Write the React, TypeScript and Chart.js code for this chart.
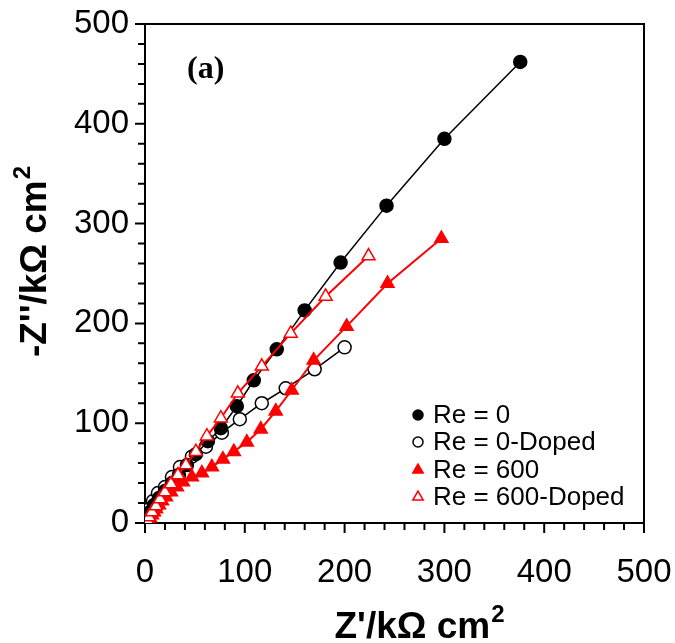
import React, { useEffect, useRef } from 'react';
import { Chart, registerables } from 'chart.js';
import { drawPoint } from 'chart.js/helpers';

Chart.register(...registerables);

// Nyquist data, Z' and -Z'' in kΩ cm²
const RE0_ZRE = [0.5, 2, 5, 9, 14, 20, 27, 34, 42, 51, 63, 76, 92, 109, 132, 160, 196, 242, 300, 376];
const RE0_ZIM = [1, 5, 11, 18, 25, 32, 40, 48, 58, 69, 82, 95, 117, 143, 174, 213, 261, 318, 385, 462];

const RE0_DOPED_ZRE = [0.5, 2, 4, 8, 13, 20, 27, 35, 47, 61, 77, 95, 117, 141, 170, 200];
const RE0_DOPED_ZIM = [2, 7, 14, 22, 30, 36, 46, 56, 66.5, 76.5, 90.5, 104, 120, 135, 154, 176];

const RE600_ZRE = [1, 3, 5, 7, 9, 11, 14, 17, 21, 26, 32, 38, 47, 57, 67, 78, 89, 102, 116, 131, 147, 169, 202, 243, 297];
const RE600_ZIM = [0, 3, 5, 8, 11, 14, 18, 22, 26, 31, 36, 41, 46, 50, 56, 64, 71.5, 81, 94, 112, 133, 163, 197, 240, 285];

const RE600_DOPED_ZRE = [2, 4, 7, 11, 15, 20, 26, 33, 41, 51, 62, 76, 93, 117, 146, 181, 224];
const RE600_DOPED_ZIM = [3, 6, 11, 17, 24, 31, 39, 48, 58, 71.5, 87, 105, 130, 157, 190, 227, 267.5];

const SERIES_LABELS = ['Re = 0', 'Re = 0-Doped', 'Re = 600', 'Re = 600-Doped'];

const X_TICKS = [0, 100, 200, 300, 400, 500];
const Y_TICKS = [0, 100, 200, 300, 400, 500];
const MINOR_TICKS = [20, 40, 60, 80, 120, 140, 160, 180, 220, 240, 260, 280, 320, 340, 360, 380, 420, 440, 460, 480];

const X_TITLE = "Z'/kΩ cm";
const Y_TITLE = "-Z''/kΩ cm";
const TITLE_SUP = '2';
const PANEL_LABEL = '(a)';

const BLACK = '#000000';
const RED = '#ff0000';
const SANS = '"Liberation Sans", Arial, sans-serif';

const zip = (xs: number[], ys: number[]) => xs.map((x, i) => ({ x, y: ys[i] }));

// axis frame, outward ticks, titles, panel tag and legend
const decorations = {
  id: 'decorations',
  beforeDatasetsDraw(chart: any) {
    const { ctx, chartArea: a, scales } = chart;
    const xs = scales.x;
    const ys = scales.y;
    ctx.save();
    ctx.strokeStyle = BLACK;
    ctx.lineWidth = 2;
    ctx.strokeRect(a.left, a.top, a.right - a.left, a.bottom - a.top);
    ctx.beginPath();
    const tick = (v: number, len: number) => {
      const px = xs.getPixelForValue(v);
      ctx.moveTo(px, a.bottom);
      ctx.lineTo(px, a.bottom + len);
      const py = ys.getPixelForValue(v);
      ctx.moveTo(a.left, py);
      ctx.lineTo(a.left - len, py);
    };
    X_TICKS.forEach((v) => tick(v, 10));
    MINOR_TICKS.forEach((v) => tick(v, 7));
    ctx.stroke();
    ctx.restore();
  },
  afterDraw(chart: any) {
    const { ctx, chartArea: a } = chart;
    ctx.save();
    ctx.fillStyle = BLACK;

    // axis titles with superscript
    const drawTitle = (text: string, cx: number, baseline: number) => {
      ctx.font = `bold 37px ${SANS}`;
      const w1 = ctx.measureText(text).width;
      ctx.font = `bold 24px ${SANS}`;
      const w2 = ctx.measureText(TITLE_SUP).width;
      const start = cx - (w1 + w2) / 2;
      ctx.textAlign = 'left';
      ctx.textBaseline = 'alphabetic';
      ctx.font = `bold 37px ${SANS}`;
      ctx.fillText(text, start, baseline);
      ctx.font = `bold 24px ${SANS}`;
      ctx.fillText(TITLE_SUP, start + w1 + 1, baseline - 16);
    };
    drawTitle(X_TITLE, 419, 638);
    ctx.save();
    ctx.translate(46, 262);
    ctx.rotate(-Math.PI / 2);
    drawTitle(Y_TITLE, 0, 0);
    ctx.restore();

    // panel tag
    ctx.font = 'bold 32px "Liberation Serif", "Times New Roman", serif';
    ctx.textAlign = 'left';
    ctx.textBaseline = 'alphabetic';
    ctx.fillText(PANEL_LABEL, a.left + 42, a.top + 54);

    // legend
    const rowY = [a.bottom - 108, a.bottom - 81, a.bottom - 53, a.bottom - 26];
    const markX = a.right - 226;
    const textX = a.right - 211;
    chart.data.datasets.forEach((ds: any, i: number) => {
      ctx.fillStyle = ds.pointBackgroundColor;
      ctx.strokeStyle = ds.pointBorderColor;
      ctx.lineWidth = 1.5;
      drawPoint(ctx, { pointStyle: ds.pointStyle, rotation: 0, radius: ds.pointStyle === 'triangle' ? 6 : 5, borderWidth: 1.5 }, markX, rowY[i]);
      ctx.fillStyle = BLACK;
      ctx.font = `26px ${SANS}`;
      ctx.textAlign = 'left';
      ctx.textBaseline = 'middle';
      ctx.fillText(ds.label, textX, rowY[i] + 1);
    });
    ctx.restore();
  },
};

export default function App() {
  const ref = useRef<HTMLCanvasElement>(null);

  useEffect(() => {
    if (!ref.current) return;
    const mk = (label: string, xs: number[], ys: number[], color: string, style: string, filled: boolean, order: number) => ({
      label,
      data: zip(xs, ys),
      showLine: true,
      borderColor: color,
      borderWidth: color === RED ? 2 : 1.5,
      pointStyle: style,
      pointRadius: style === 'triangle' ? 7.5 : 6.5,
      pointHoverRadius: style === 'triangle' ? 7.5 : 6.5,
      pointBorderWidth: 1.5,
      pointBorderColor: color,
      pointBackgroundColor: filled ? color : '#ffffff',
      tension: 0,
      order,
    });
    const chart = new Chart(ref.current, {
      type: 'scatter',
      data: {
        datasets: [
          mk(SERIES_LABELS[0], RE0_ZRE, RE0_ZIM, BLACK, 'circle', true, 2),
          mk(SERIES_LABELS[1], RE0_DOPED_ZRE, RE0_DOPED_ZIM, BLACK, 'circle', false, 3),
          mk(SERIES_LABELS[2], RE600_ZRE, RE600_ZIM, RED, 'triangle', true, 1),
          mk(SERIES_LABELS[3], RE600_DOPED_ZRE, RE600_DOPED_ZIM, RED, 'triangle', false, 0),
        ],
      },
      options: {
        responsive: false,
        animation: false,
        events: [],
        layout: { padding: { left: 0, top: 24, right: 31, bottom: 0 } },
        plugins: { legend: { display: false }, tooltip: { enabled: false } },
        scales: {
          x: {
            type: 'linear',
            min: 0,
            max: 500,
            grid: { display: false, drawTicks: false },
            border: { display: false },
            afterBuildTicks: (s: any) => { s.ticks = X_TICKS.map((value) => ({ value })); },
            afterFit: (s: any) => { s.height = 120; s.paddingLeft = 0; s.paddingRight = 0; },
            ticks: { color: BLACK, font: { family: SANS, size: 33 }, padding: 30, maxRotation: 0 },
          },
          y: {
            type: 'linear',
            min: 0,
            max: 500,
            grid: { display: false, drawTicks: false },
            border: { display: false },
            afterBuildTicks: (s: any) => { s.ticks = Y_TICKS.map((value) => ({ value })); },
            afterFit: (s: any) => { s.width = 145; s.paddingTop = 0; s.paddingBottom = 0; },
            ticks: { color: BLACK, font: { family: SANS, size: 33 }, padding: 16 },
          },
        },
      },
      plugins: [decorations],
    });
    return () => chart.destroy();
  }, []);

  return (
    <div style={{ position: 'fixed', left: 0, top: 0, width: 675, height: 643, background: '#fff' }}>
      <canvas ref={ref} width={675} height={643} />
    </div>
  );
}
